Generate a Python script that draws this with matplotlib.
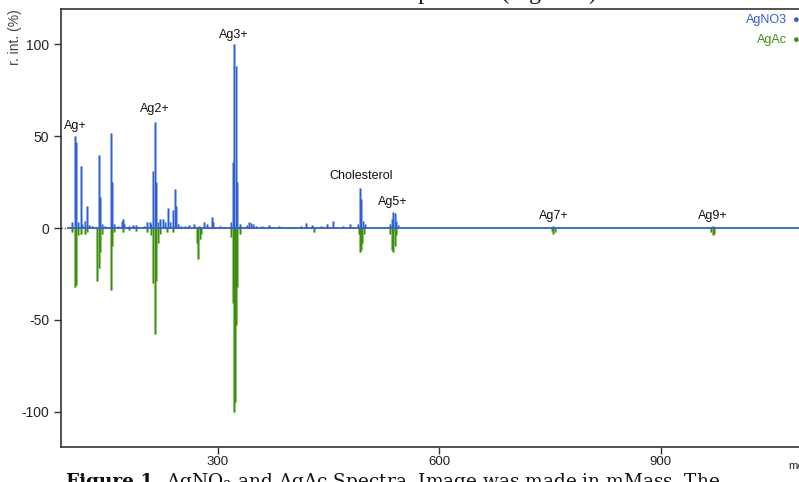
import matplotlib
matplotlib.use("Agg")
import matplotlib.pyplot as plt
import numpy as np

plt.rcParams['font.family'] = ['Liberation Sans', 'DejaVu Sans']
plt.rcParams['mathtext.fontset'] = 'dejavuserif'
plt.rcParams['axes.unicode_minus'] = False

# AgNO3 spectrum (m/z, relative intensity %)
agno3_mz = [103, 106.9, 108.9, 111, 114.5, 117, 120, 123, 126, 130, 139, 140.5, 143, 148,
            156, 157.5, 160, 165, 170, 172, 174, 180, 185, 190, 200, 205, 208, 210,
            212.5, 215, 216.8, 219, 222, 226.6, 229, 232.5, 235, 240, 242, 243.3, 246,
            250, 256, 262, 268, 275, 282, 286, 292, 294, 303, 318, 320.5, 322.7, 324.6,
            327, 330, 340, 343, 345, 348, 352, 360, 370, 383, 395, 413, 420, 428, 440,
            448, 456, 470, 479, 490, 493.4, 494.8, 497, 500, 534, 536, 538, 540, 542,
            544, 753, 755, 968, 971]
agno3_int = [3, 50, 47, 3, 34, 2, 4, 12, 1.5, 1, 40, 17, 2, 1,
             52, 25, 2, 1, 4, 5, 2, 1, 1.5, 1.5, 1, 3, 3, 2,
             31, 58, 25, 3, 5, 5, 3, 11, 3, 10, 21.5, 12, 2,
             1, 1, 1.5, 2, 1, 3, 2, 6, 3, 1, 3, 36, 100, 88,
             25, 2, 1.5, 3, 2.5, 2, 1, 1, 1.5, 1, 0.5, 1, 2.5, 1.5, 1,
             2, 4, 1, 2, 2, 22, 16, 4, 2, 2, 5, 8.5, 8, 4,
             1.5, 0.5, 1, 0.5, 1]

# AgAc spectrum (m/z, relative intensity %), drawn downwards
agac_mz = [103, 106.9, 108.9, 111, 114.5, 120, 123, 137, 139, 140.5, 143, 156, 157.5,
           160, 172, 180, 190, 205, 210, 212.5, 215, 216.8, 219, 222, 231, 240, 272,
           274, 276, 278, 318, 320.5, 322.3, 324, 325.2, 327, 330, 431, 491, 493.4,
           494.8, 496, 498, 534, 536, 538, 540, 542, 753, 755, 757, 968, 971, 973]
agac_int = [2, 32, 31, 4, 3, 3, 2, 29, 22, 13, 3, 34, 10,
            2, 2, 1, 1.5, 2, 4, 30, 58, 29, 8, 3, 2, 2, 8,
            17, 6, 3, 5, 41, 100, 95, 53, 32, 3, 2, 3, 13,
            12, 8, 3, 3, 12, 13, 10, 4, 1.5, 3, 2, 2, 4, 3]

peak_labels = ['Ag+', 'Ag2+', 'Ag3+', 'Cholesterol', 'Ag5+', 'Ag7+', 'Ag9+']
label_mz = [107, 215.3, 322.3, 494, 538, 755, 971]
label_y = [55.6, 64.8, 105, 28.3, 14.3, 6.5, 6.5]

xticks = [300, 600, 900]
yticks = [-100, -50, 0, 50, 100]

blue = '#2f5fd0'
blue_light = '#9db4ea'
green = '#3c8f12'
green_light = '#96c878'
axcol = '#333333'

W, H = 799, 482
fig = plt.figure(figsize=(W / 100, H / 100), dpi=100)
# axes runs past the right edge of the picture (cropped screenshot)
ax = fig.add_axes([61 / W, (H - 447) / H, (830 - 61) / W, (447 - 9) / H])

mz1 = np.array(agno3_mz)
in1 = np.array(agno3_int)
mz2 = np.array(agac_mz)
in2 = np.array(agac_int)

ax.vlines(mz1, 0, in1, color=blue_light, lw=2.0)
ax.vlines(mz1, 0, in1, color=blue, lw=0.9)
ax.vlines(mz2, 0, -in2, color=green_light, lw=2.0)
ax.vlines(mz2, 0, -in2, color=green, lw=0.9)

ax.plot([88, 97], [0, 0], ':', color=axcol, lw=0.9)
ax.plot([97, 1130], [0, 0], color=blue, lw=1.3)

for lab, x, y in zip(peak_labels, label_mz, label_y):
    ax.text(x, y, lab, ha='center', va='center', fontsize=9, color='#111111')

ax.set_xlim(88, 1129.5)
ax.set_ylim(-119.3, 119.3)
ax.set_xticks(xticks)
ax.set_yticks(yticks)
ax.tick_params(direction='out', length=5, width=1, color=axcol,
               labelsize=10, labelcolor='#222222')
ax.tick_params(axis='x', pad=1.5, labelsize=9.5)
for s in ax.spines.values():
    s.set_color(axcol)
    s.set_linewidth(1.2)

fig.text(15 / W, 1 - 37 / H, 'r. int. (%)', rotation=90, ha='center', va='center',
         fontsize=10, color='#444444')
fig.text(788 / W, 1 - 466 / H, 'm/z', ha='left', va='center', fontsize=8,
         color='#222222')

# legend (top right)
fig.text(787 / W, 1 - 20 / H, 'AgNO3', ha='right', va='center', fontsize=9, color=blue)
fig.text(795 / W, 1 - 20 / H, '●', ha='center', va='center', fontsize=8, color=blue)
fig.text(787 / W, 1 - 40 / H, 'AgAc', ha='right', va='center', fontsize=9, color=green)
fig.text(795 / W, 1 - 40 / H, '●', ha='center', va='center', fontsize=8, color=green)

# cropped page text above and below the figure
fig.text(597 / W, 1 + 1 / H, 'spectrum (Figure 1)', ha='right', va='baseline',
         fontsize=17, family='Liberation Serif', color='#111111')
t1 = fig.text(66 / W, -5 / H, 'Figure 1.', ha='left', va='baseline', fontsize=13.3,
              family='DejaVu Serif', weight='bold', color='#111111')
r = fig.canvas.get_renderer()
bb = t1.get_window_extent(r)
fig.text((bb.x1 + 6) / W, -5 / H, 'AgNO$_3$ and AgAc Spectra. Image was made in mMass. The',
         ha='left', va='baseline', fontsize=13.3, family='DejaVu Serif', color='#111111')

fig.savefig('out.png', dpi=100)
